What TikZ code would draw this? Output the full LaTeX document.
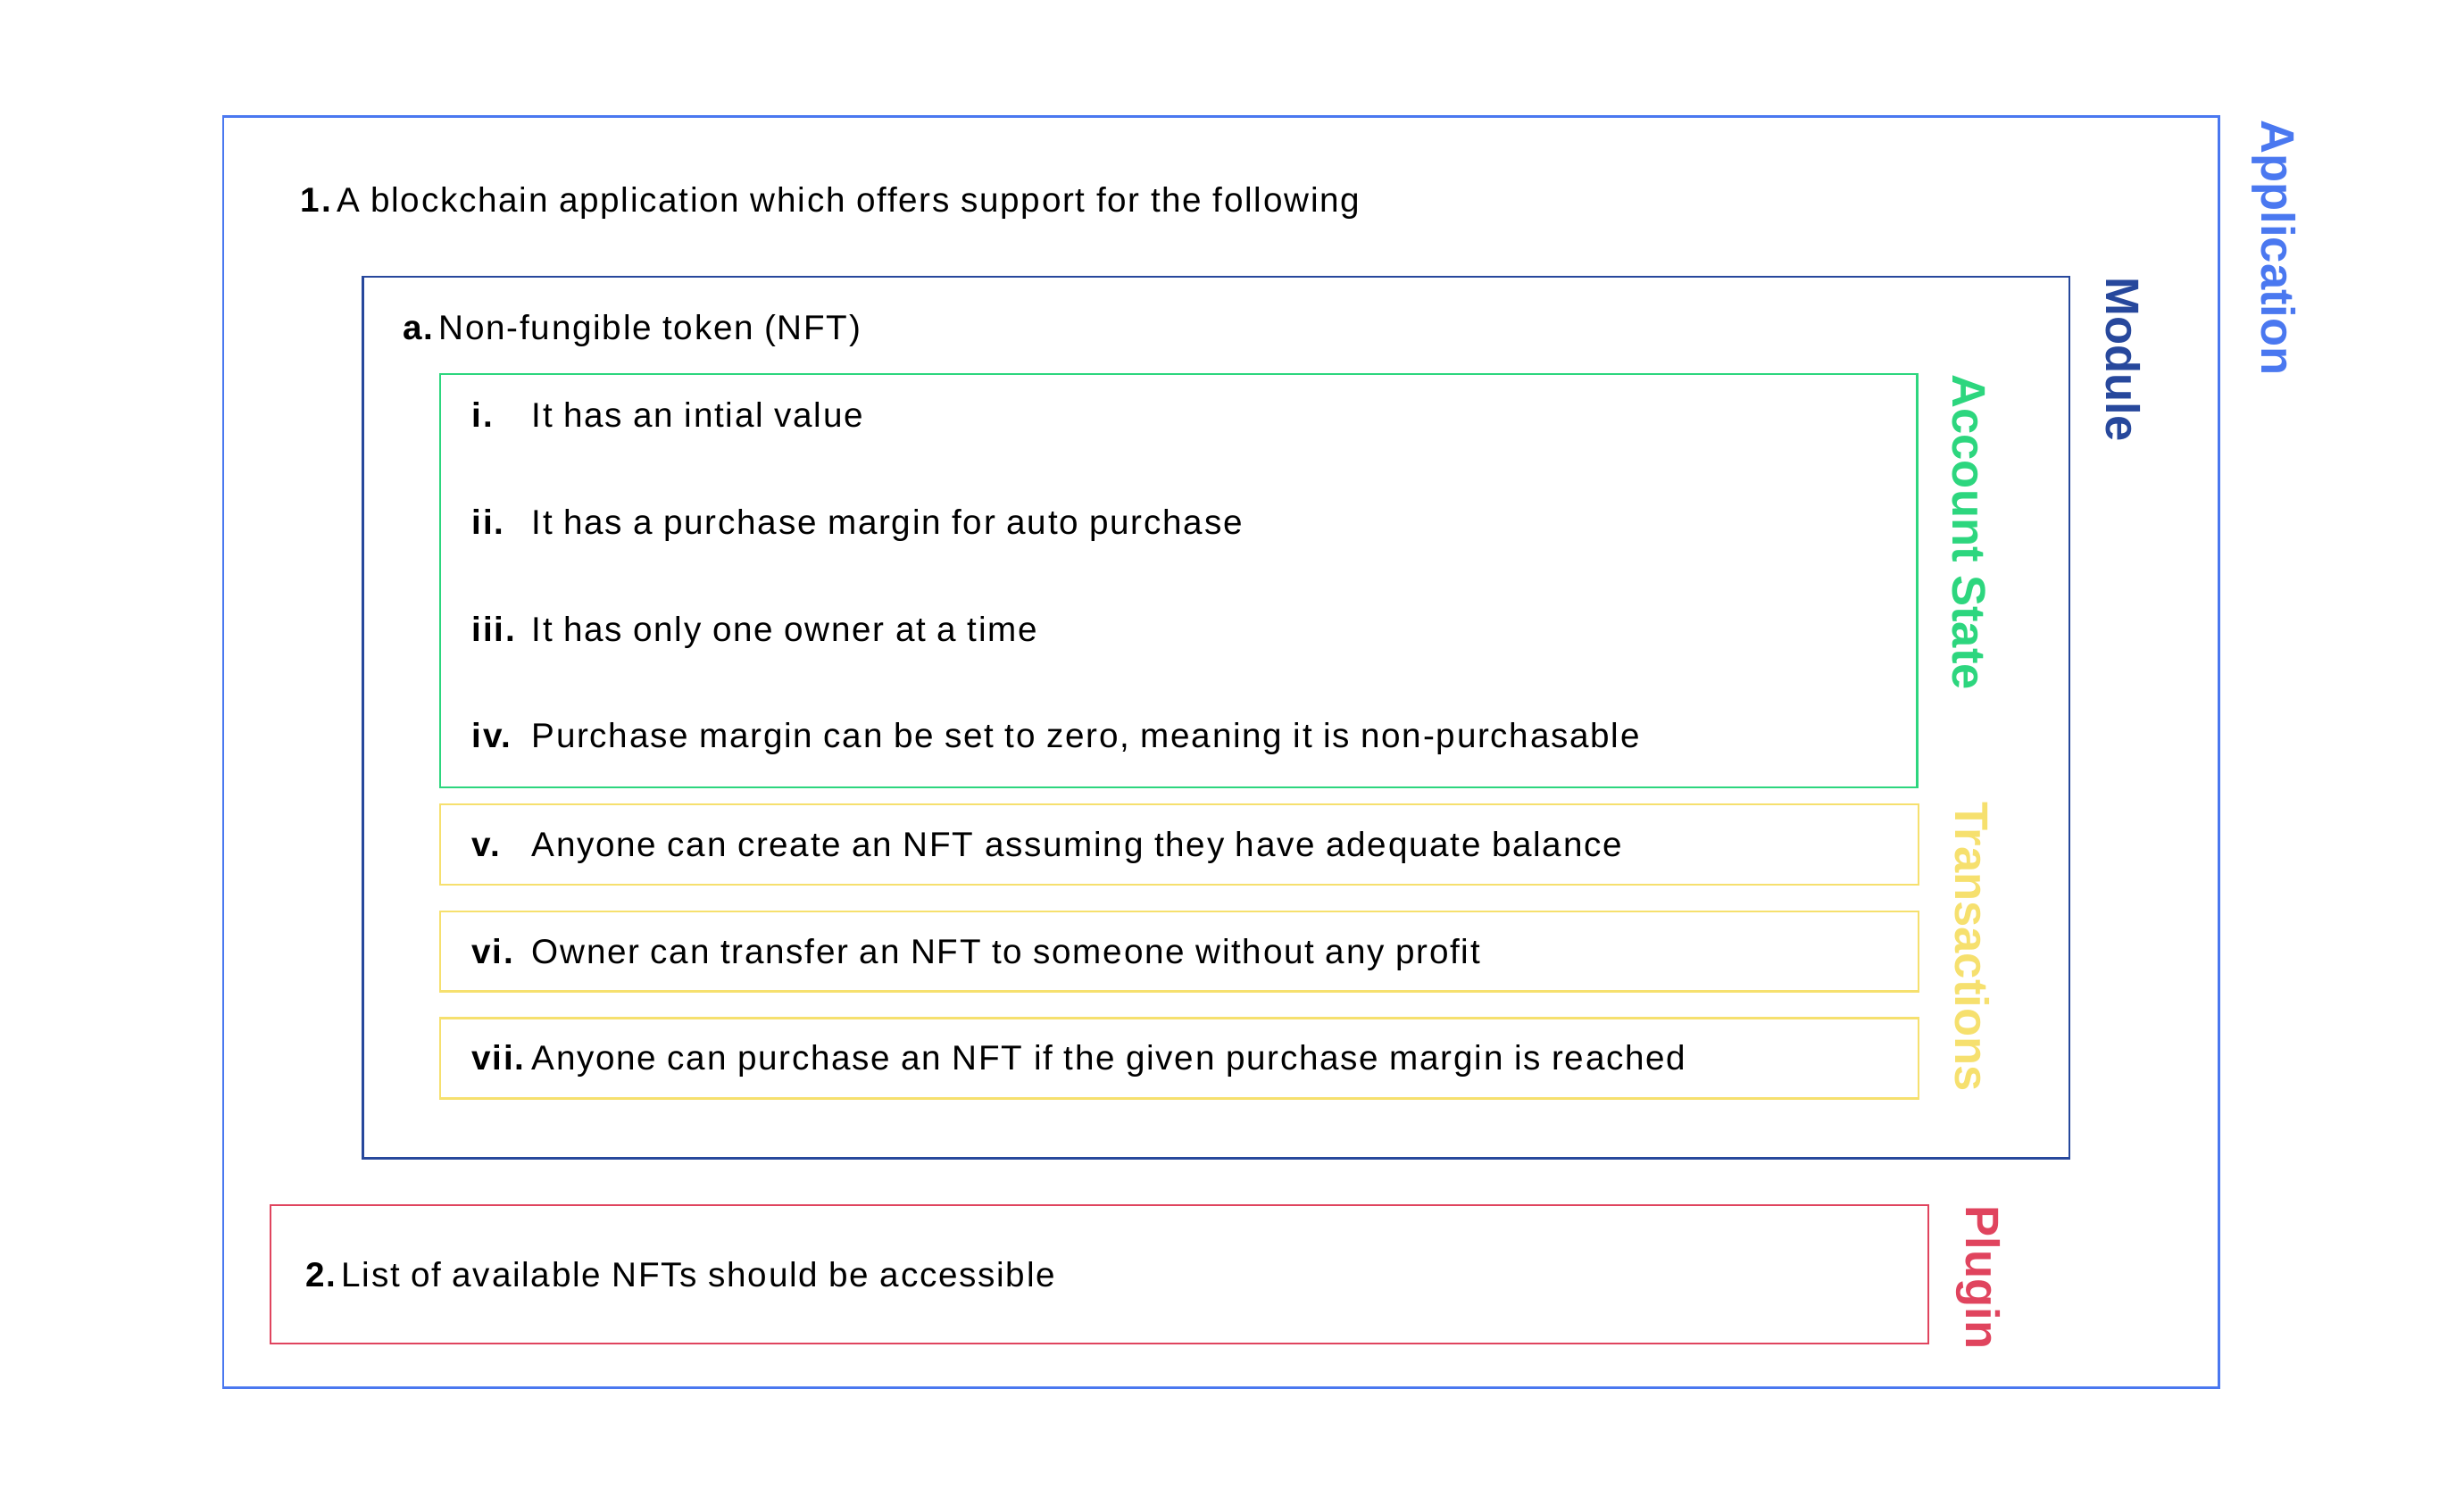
\documentclass[tikz,border=0pt]{standalone}
\usepackage{fontspec}
\setmainfont{Liberation Sans}
\newfontfamily\bodyfont[LetterSpace=4.5]{Liberation Sans}
\usetikzlibrary{fit}
\definecolor{appblue}{HTML}{4A78F0}
\definecolor{modblue}{HTML}{27489C}
\definecolor{stategreen}{HTML}{2DD67E}
\definecolor{txyellow}{HTML}{F6E06E}
\definecolor{plugred}{HTML}{E0445E}
\newcommand{\itemno}[1]{\makebox[0.76cm][l]{\bfseries #1}}
\newcommand{\headno}[1]{\textbf{#1}\hspace{1.5pt}}

\begin{document}
\begin{tikzpicture}[
    x=0.02cm, y=-0.02cm,
    layer/.style={draw=#1, line width=0.8pt, inner sep=0pt},
    tag/.style={rotate=-90, anchor=west, inner sep=0pt, font=\fontsize{17}{20}\selectfont\bfseries, text=#1},
    txt/.style={anchor=base west, inner sep=0pt, font=\bodyfont\fontsize{12.5}{15}\selectfont}
]
\useasboundingbox (0,0) rectangle (1568,958);

% Caixas
\node[layer=appblue, fit={(142,74) (1412,883)}] (appbox) {};
\node[layer=modblue, fit={(231,176) (1317,737)}] (modbox) {};
\node[layer=stategreen, fit={(280,238) (1220,501)}] (statebox) {};
\node[layer=txyellow, fit={(280,512) (1221,563)}] (txbox1) {};
\node[layer=txyellow, fit={(280,580) (1221,631)}] (txbox2) {};
\node[layer=txyellow, fit={(280,648) (1221,699)}] (txbox3) {};
\node[layer=plugred, fit={(172,767) (1227,855)}] (plugbox) {};

% Etiquetas laterais
\node[tag=appblue] (apptag) at (1447,76) {Application};
\node[tag=modblue] (modtag) at (1351,176) {Module};
\node[tag=stategreen] (statetag) at (1253,238) {Account State};
\node[tag=txyellow] (txtag) at (1255,510) {Transactions};
\node[tag=plugred] (plugtag) at (1259,767) {Plugin};

% Textos
\node[txt] (apptext) at (191,135) {\headno{1.}A blockchain application which offers support for the following};
\node[txt] (nfttext) at (256,216) {\headno{a.}Non-fungible token (NFT)};
\node[txt] (item1) at (300,272) {\itemno{i.}It has an intial value};
\node[txt] (item2) at (300,340) {\itemno{ii.}It has a purchase margin for auto purchase};
\node[txt] (item3) at (300,408) {\itemno{iii.}It has only one owner at a time};
\node[txt] (item4) at (300,476) {\itemno{iv.}Purchase margin can be set to zero, meaning it is non-purchasable};
\node[txt] (item5) at (300,545) {\itemno{v.}Anyone can create an NFT assuming they have adequate balance};
\node[txt] (item6) at (300,613) {\itemno{vi.}Owner can transfer an NFT to someone without any profit};
\node[txt] (item7) at (300,681) {\itemno{vii.}Anyone can purchase an NFT if the given purchase margin is reached};
\node[txt] (plugtext) at (194,819) {\headno{2.}List of available NFTs should be accessible};

\end{tikzpicture}
\end{document}
